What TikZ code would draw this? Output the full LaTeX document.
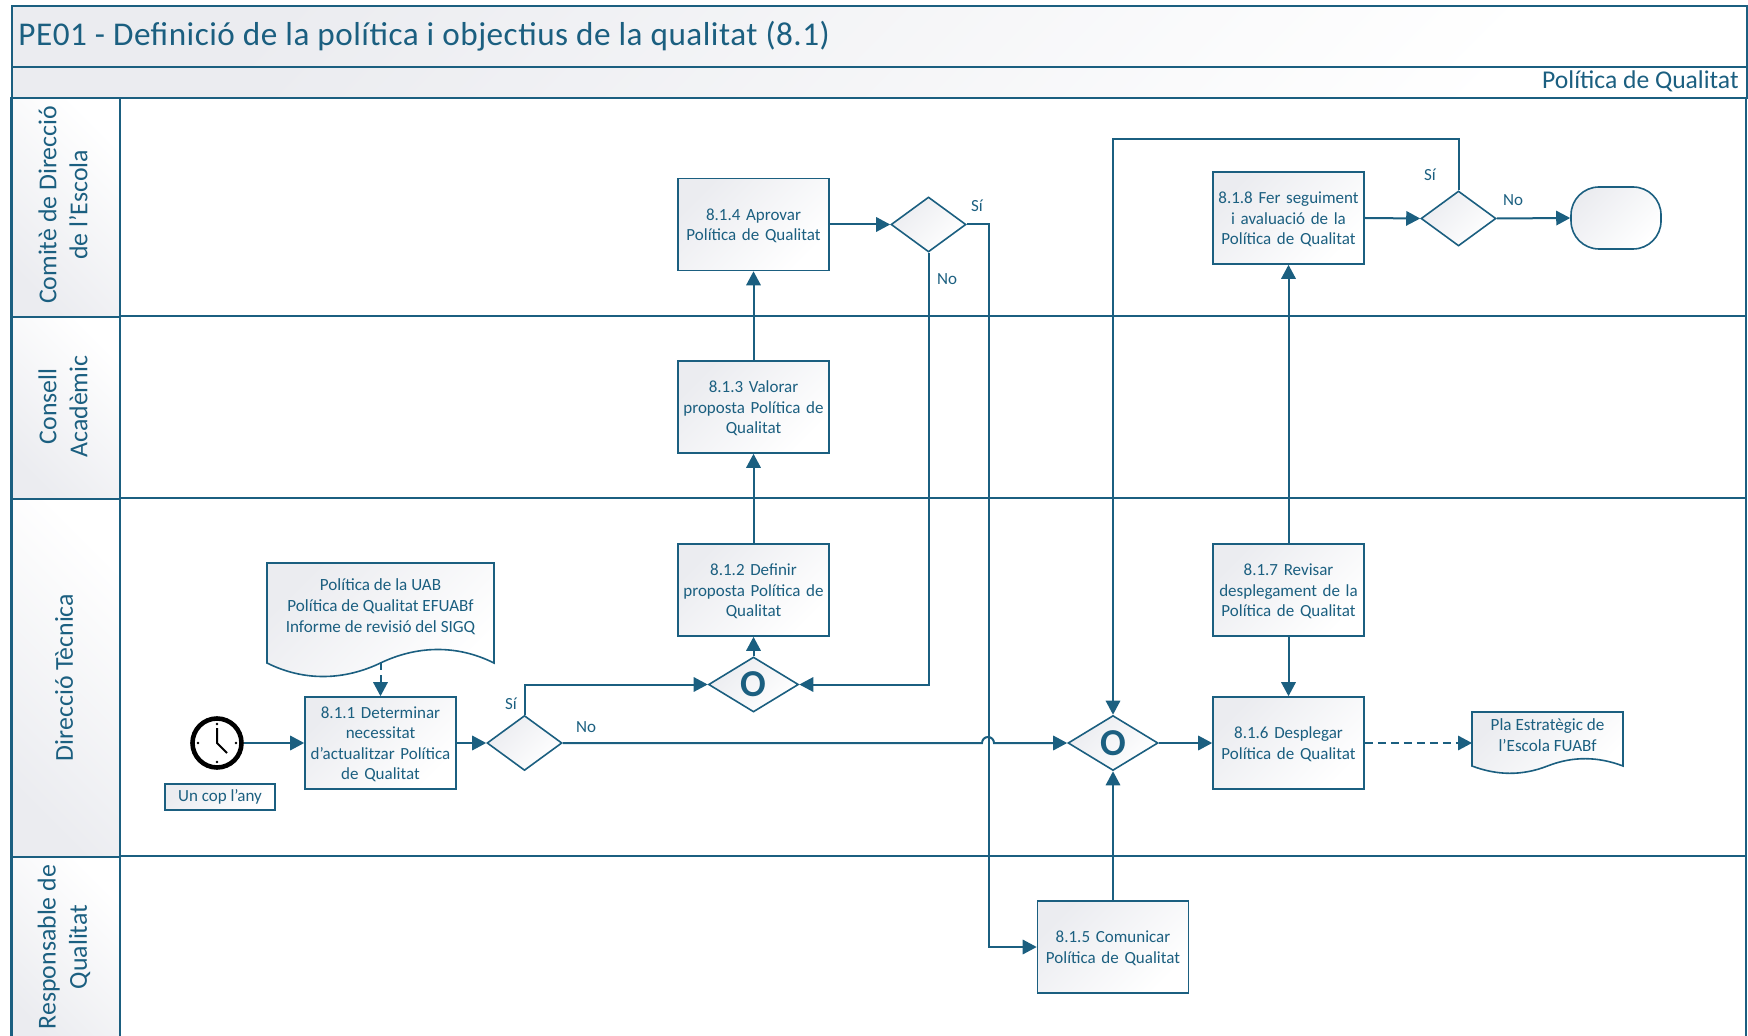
\documentclass[tikz,border=0pt]{standalone}
\usepackage{fontspec}
\setmainfont{Carlito}
\usetikzlibrary{arrows.meta,shapes.geometric,shadings}
\definecolor{teal}{HTML}{1B5F80}
\definecolor{shade}{HTML}{EBECF0}
\tikzset{
  grad/.style={top color=shade,bottom color=white,shading angle=45},
  boxs/.style={draw=teal,line width=.8pt,grad,text=teal,font=\fontsize{8.5}{10.3}\selectfont,align=center,inner sep=0pt,minimum width=75.5pt,minimum height=46pt,text width=75pt,execute at begin node={\rule{0pt}{7.2pt}}},
  dia/.style={diamond,draw=teal,line width=.8pt,grad,text=teal,inner sep=0pt,minimum width=37.5pt,minimum height=27.5pt,aspect=1.37},
  gate/.style={diamond,draw=teal,line width=.8pt,grad,text=teal,inner sep=0pt,minimum width=45pt,minimum height=27.5pt,aspect=1.64,font=\fontsize{19}{19}\bfseries\selectfont},
  conn/.style={draw=teal,line width=1pt,-{Triangle[length=7pt,width=7.2pt]}},
  lbl/.style={text=teal,font=\fontsize{8.5}{10.3}\selectfont,inner sep=0pt},
  frame/.style={draw=teal,line width=1pt},
  lanehead/.style={frame,top color=shade,bottom color=white,shading angle=135,anchor=north west,inner sep=0pt,minimum width=54pt},
  lanetxt/.style={text=teal,rotate=90,align=center,font=\fontsize{12.9}{15.6}\selectfont,inner sep=0pt},
  doc/.style={draw=teal,line width=.8pt,grad},
  dtxt/.style={text=teal,font=\fontsize{8.55}{10.4}\selectfont,align=center,inner sep=0pt},
}
\begin{document}
\begin{tikzpicture}[x=0.5pt,y=-0.5pt]
\useasboundingbox (0,0) rectangle (1748,1036);
\clip (0,0) rectangle (1748,1036);
% frame bars
\node[frame,grad,anchor=north west,inner sep=0pt,minimum width=867.5pt,minimum height=30.5pt] (titlebar) at (10.5,5.5) {};
\node[anchor=west,text=teal,inner sep=0pt,font=\fontsize{16.6}{19}\selectfont\addfontfeature{LetterSpace=1.5}] (title) at (18,36) {PE01 - Definició de la política i objectius de la qualitat (8.1)};
\node[frame,grad,anchor=north west,inner sep=0pt,minimum width=867.5pt,minimum height=15.5pt] (subbar) at (10.5,66) {};
\node[anchor=east,text=teal,inner sep=0pt,font=\fontsize{12.8}{15}\selectfont] (sub) at (1739,81) {Política de Qualitat};
% lanes
\draw[frame] (10.5,97) -- (10.5,1040) (1745.5,97) -- (1745.5,1040);
\draw[frame] (10.5,316) -- (1745.5,316) (10.5,498.5) -- (1745.5,498.5) (10.5,855.5) -- (1745.5,855.5);
\node[lanehead,minimum height=109.5pt] (h1) at (10.5,97) {};
\node[lanehead,minimum height=91.25pt] (h2) at (10.5,316) {};
\node[lanehead,minimum height=178.5pt] (h3) at (10.5,498.5) {};
\node[lanehead,minimum height=95pt] (h4) at (10.5,855.5) {};
\node[lanetxt] (t1) at (63,205) {Comitè de Direcció\\de l’Escola};
\node[lanetxt] (t2) at (63,406.5) {Consell\\Acadèmic};
\node[lanetxt] (t3) at (64,677.5) {Direcció Tècnica};
\node[lanetxt] (t4) at (64,947) {Responsable de\\Qualitat};
% documents
\path[doc] (267,563) -- (494,563) -- (494,663) .. controls (456,644) and (416,646) .. (380.5,663) .. controls (345,680) and (305,682) .. (267,663) -- cycle;
\node[dtxt] (doc1) at (380.5,606.5) {Política de la UAB\\Política de Qualitat EFUABf\\Informe de revisió del SIGQ};
\coordinate (doc1out) at (380.5,663);
\path[doc] (1472,712) -- (1623,712) -- (1623,766) .. controls (1598,756.5) and (1573,756) .. (1547.5,766) .. controls (1522,776) and (1497,775.5) .. (1472,766) -- cycle;
\node[dtxt] (doc2) at (1547.5,735) {Pla Estratègic de\\l’Escola FUABf};
\coordinate (doc2in) at (1472,743);
% boxes
\node[boxs] (b811) at (380.5,743) {8.1.1 Determinar\\necessitat\\d’actualitzar Política\\de Qualitat};
\node[boxs] (b812) at (753.5,590) {8.1.2 Definir\\proposta Política de\\Qualitat};
\node[boxs] (b813) at (753.5,407) {8.1.3 Valorar\\proposta Política de\\Qualitat};
\node[boxs] (b814) at (753.5,224.5) {8.1.4 Aprovar\\Política de Qualitat};
\node[boxs] (b815) at (1113,947) {8.1.5 Comunicar\\Política de Qualitat};
\node[boxs] (b816) at (1288.5,743) {8.1.6 Desplegar\\Política de Qualitat};
\node[boxs] (b817) at (1288.5,590) {8.1.7 Revisar\\desplegament de la\\Política de Qualitat};
\node[boxs] (b818) at (1288.5,218) {8.1.8 Fer seguiment\\i avaluació de la\\Política de Qualitat};
% gateways
\node[dia] (d1) at (524.5,743) {};
\node[dia] (d2) at (928.5,224.5) {};
\node[dia] (d3) at (1458.5,218.5) {};
\node[gate] (g1) at (753.5,684.5) {\raisebox{-.6pt}{O}};
\node[gate] (g2) at (1113,743) {\raisebox{-.6pt}{O}};
% start, end, note
\node[circle,draw=black,line width=2.3pt,fill=white,minimum size=24.5pt,inner sep=0pt] (clock) at (217,743) {};
\draw[black,line width=1pt] (217,728) -- (clock.center) -- (227,753);
\fill[black] (217,724) circle (.7pt) (217,762) circle (.7pt) (198,743) circle (.7pt) (236,743) circle (.7pt);
\node[draw=teal,line width=.8pt,grad,text=teal,font=\fontsize{8.5}{10.3}\selectfont,inner sep=0pt,minimum width=55pt,minimum height=13pt] (once) at (220,797) {Un cop l’any};
\node[draw=teal,line width=.8pt,grad,rounded corners=14pt,inner sep=0pt,minimum width=45pt,minimum height=31pt] (endn) at (1616,218) {};
% connectors
\draw[conn] (clock.east) -- (b811.west);
\draw[conn,dash pattern=on 3.5pt off 2.5pt] (doc1out) -- (b811.north);
\draw[conn] (b811.east) -- (d1.west);
\draw[conn] (d1.north) |- (g1.west);
\coordinate (bump) at (982,743);
\draw[conn] (d1.east) -- (bump) arc[start angle=180,end angle=0,radius=3pt] -- (g2.west);
\draw[conn] (g1.north) -- (b812.south);
\draw[conn] (b812.north) -- (b813.south);
\draw[conn] (b813.north) -- (b814.south);
\draw[conn] (b814.east) -- (d2.west);
\draw[conn] (d2.south) |- (g1.east);
\draw[conn] (d2.east) -- ++(22,0) |- (b815.west);
\draw[conn] (b815.north) -- (g2.south);
\draw[conn] (g2.east) -- (b816.west);
\draw[conn,dash pattern=on 4pt off 2.5pt] (b816.east) -- (doc2in);
\draw[conn] (b817.south) -- (b816.north);
\draw[conn] (b817.north) -- (b818.south);
\draw[conn] (b818.east) -- (d3.west);
\draw[conn] (d3.east) -- (endn.west);
\draw[conn] (d3.north) -- ++(0,-51.5) -| (g2.north);
% labels
\node[lbl] (l1) at (511,704) {Sí};
\node[lbl] (l2) at (586,727) {No};
\node[lbl] (l3) at (977,206) {Sí};
\node[lbl] (l4) at (947,279) {No};
\node[lbl] (l5) at (1430,175) {Sí};
\node[lbl] (l6) at (1513,200) {No};
\end{tikzpicture}
\end{document}
